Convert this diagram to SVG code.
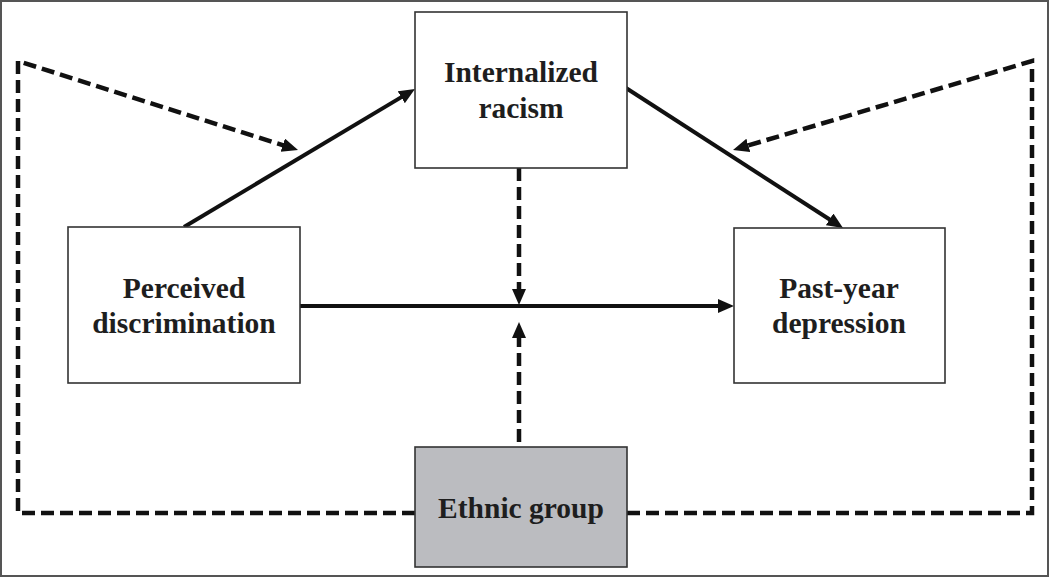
<svg xmlns="http://www.w3.org/2000/svg" width="1050" height="578" viewBox="0 0 1050 578">
  <style>
    .box { fill: #ffffff; stroke: #333333; stroke-width: 1.6; }
    .shaded { fill: #bbbcc0; }
    .lbl { font-family: "Liberation Serif", "Times New Roman", serif; font-weight: bold; font-size: 29.5px; fill: #1e1e1e; text-anchor: middle; }
    .solid { fill: none; stroke: #111111; stroke-width: 4; }
    .dash { fill: none; stroke: #111111; stroke-width: 4.5; stroke-dasharray: 13 6; }
  </style>
  <defs>
    <marker id="arrow" markerUnits="userSpaceOnUse" markerWidth="17" markerHeight="15" refX="8" refY="7" orient="auto">
      <path d="M0,0 L16,7 L0,14 z" fill="#111111"/>
    </marker>
  </defs>
  <rect x="1" y="1" width="1047" height="575" fill="#ffffff" stroke="#555555" stroke-width="2"/>

  <g id="connectors">
    <path class="dash" d="M415,513 H18 V61 L290.4,147.6" marker-end="url(#arrow)"/>
    <path class="dash" d="M627,513 H1032 V61 L740.7,147.7" marker-end="url(#arrow)"/>
    <line class="solid" x1="184" y1="227" x2="408.1" y2="93.1" marker-end="url(#arrow)"/>
    <line class="solid" x1="626" y1="88" x2="836.3" y2="223.7" marker-end="url(#arrow)"/>
    <line class="solid" x1="300" y1="306" x2="726" y2="306" marker-end="url(#arrow)"/>
    <line class="dash" x1="519" y1="168" x2="519" y2="297" marker-end="url(#arrow)"/>
    <line class="dash" x1="519" y1="442" x2="519" y2="330" marker-end="url(#arrow)"/>
  </g>

  <g id="node-internalized">
    <rect class="box" x="415" y="12" width="212" height="156"/>
    <text class="lbl" x="521" y="82">Internalized</text>
    <text class="lbl" x="521" y="118">racism</text>
  </g>
  <g id="node-perceived">
    <rect class="box" x="68" y="227" width="232" height="156"/>
    <text class="lbl" x="184" y="298">Perceived</text>
    <text class="lbl" x="184" y="333">discrimination</text>
  </g>
  <g id="node-depression">
    <rect class="box" x="734" y="228" width="211" height="155"/>
    <text class="lbl" x="839" y="298">Past-year</text>
    <text class="lbl" x="839" y="333">depression</text>
  </g>
  <g id="node-ethnic">
    <rect class="box shaded" x="415" y="447" width="212" height="120"/>
    <text class="lbl" x="521" y="518">Ethnic group</text>
  </g>
</svg>
